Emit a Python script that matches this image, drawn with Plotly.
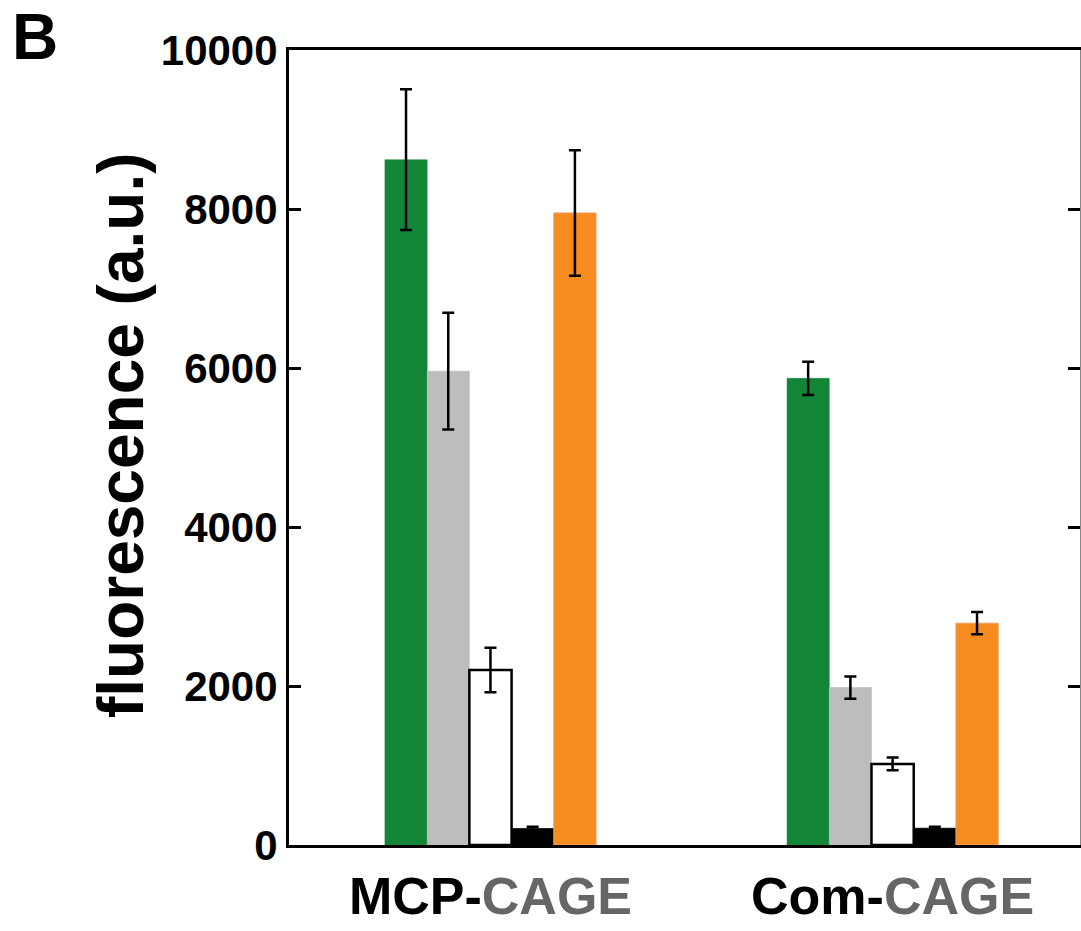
import plotly.graph_objects as go

groups = ["MCP-CAGE", "Com-CAGE"]
group_labels = ["<b>MCP-<span style='color:#666666'>CAGE</span></b>",
                "<b>Com-<span style='color:#666666'>CAGE</span></b>"]
series_names = ["green", "grey", "white", "black", "orange"]
green_vals = [8620, 5870]
green_err = [885, 210]
grey_vals = [5960, 1980]
grey_err = [735, 140]
white_vals = [2200, 1020]
white_err = [280, 80]
black_vals = [205, 210]
black_err = [25, 18]
orange_vals = [7950, 2790]
orange_err = [790, 140]
y_ticks = [0, 2000, 4000, 6000, 8000, 10000]

fills = ["#138536", "#BDBDBD", "#FFFFFF", "#000000", "#F68B1F"]
lines = ["#138536", "#B5B5B5", "#000000", "#000000", "#E8A060"]
line_w = [0.5, 0.5, 2.5, 1, 1]
vals = [green_vals, grey_vals, white_vals, black_vals, orange_vals]
errs = [green_err, grey_err, white_err, black_err, orange_err]

fig = go.Figure()
for name, v, e, fc, lc, lw in zip(series_names, vals, errs, fills, lines, line_w):
    fig.add_trace(go.Bar(
        x=[0, 1], y=v, name=name,
        marker=dict(color=fc, line=dict(color=lc, width=lw)),
        error_y=dict(type="data", array=e, visible=True, color="#000000",
                     thickness=2.5, width=6),
    ))

# invisible trace for right axis
fig.add_trace(go.Scatter(x=[0], y=[0], yaxis="y2", mode="markers",
                         marker=dict(opacity=0), showlegend=False, hoverinfo="skip"))

fig.update_layout(
    width=1081, height=931,
    margin=dict(l=289, r=1, t=50, b=86),
    paper_bgcolor="white", plot_bgcolor="white",
    barmode="group", bargap=0.475, bargroupgap=0,
    showlegend=False,
    font=dict(family="Liberation Sans, Arial, sans-serif", color="#000000"),
    xaxis=dict(
        range=[-0.501, 1.466], tickmode="array", tickvals=[0, 1],
        ticktext=group_labels, ticks="", showline=True, linewidth=3,
        linecolor="#000000", mirror=True, showgrid=False, zeroline=False,
        tickfont=dict(size=52, family="Liberation Sans, Arial, sans-serif"),
        ticklabelstandoff=4, automargin=False,
    ),
    yaxis=dict(
        range=[0, 10000], tickmode="array", tickvals=y_ticks,
        ticktext=[f"<b>{t}</b>" for t in y_ticks],
        ticks="inside", ticklen=12, tickwidth=3, tickcolor="#000000",
        showline=True, linewidth=3, linecolor="#000000", showgrid=False,
        zeroline=False, tickfont=dict(size=42), automargin=False,
    ),
    yaxis2=dict(
        range=[0, 10000], overlaying="y", side="right", tickmode="array",
        tickvals=y_ticks, ticks="inside", ticklen=12, tickwidth=3,
        tickcolor="#000000", showticklabels=False, showline=True,
        linewidth=1, linecolor="#888888", showgrid=False, zeroline=False,
        automargin=False,
    ),
    annotations=[
        dict(text="<b>fluorescence (a.u.)</b>", xref="paper", yref="paper",
             x=(121 - 289) / 791, y=(845 - 435) / 795, textangle=-90,
             showarrow=False, font=dict(size=64), xanchor="center", yanchor="middle"),
        dict(text="<b>B</b>", xref="paper", yref="paper",
             x=(10 - 289) / 791, y=(845 - 37) / 795, showarrow=False,
             font=dict(size=64), xanchor="left", yanchor="middle"),
    ],
)

fig.write_html("out.html")
